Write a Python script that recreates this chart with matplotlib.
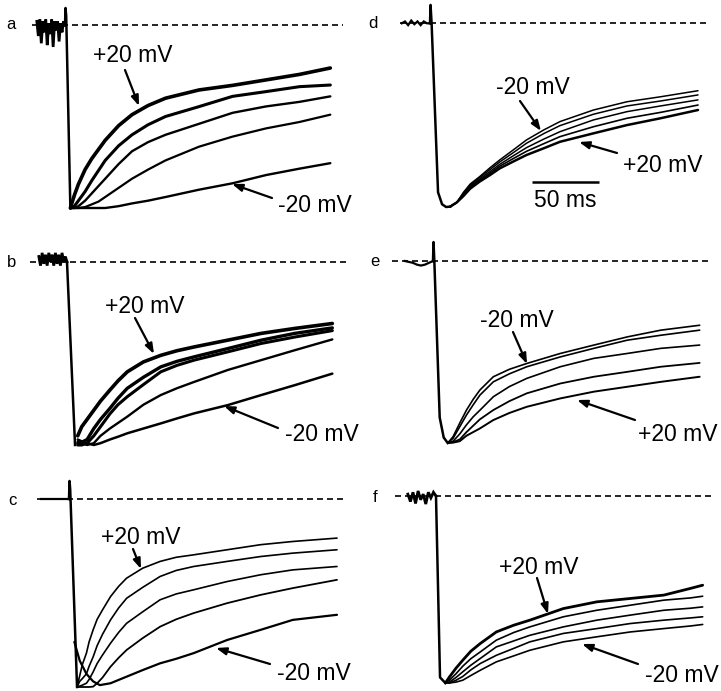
import numpy as np
import matplotlib
matplotlib.use("Agg")
import matplotlib.pyplot as plt

W, H = 721, 691
FONT = "Liberation Sans"

# ---------------- data (time in ms after step, current normalised to peak) ----------------
# panel a
t_a = [4, 7, 10, 15, 20, 25, 30, 40, 50, 62, 75, 100, 125, 150, 175, 198]
a1 = [-1.0, -0.93, -0.87, -0.79, -0.73, -0.68, -0.63, -0.55, -0.49, -0.44, -0.40, -0.355, -0.33, -0.30, -0.27, -0.235]
a2 = [-1.0, -0.99, -0.96, -0.91, -0.85, -0.795, -0.74, -0.66, -0.60, -0.545, -0.50, -0.446, -0.39, -0.364, -0.337, -0.328]
a3 = [-1.0, -1.0, -0.99, -0.96, -0.92, -0.88, -0.84, -0.76, -0.69, -0.64, -0.60, -0.54, -0.48, -0.445, -0.42, -0.39]
a4 = [-1.0, -1.0, -1.0, -0.995, -0.98, -0.965, -0.94, -0.89, -0.84, -0.79, -0.74, -0.665, -0.61, -0.565, -0.53, -0.49]
a5 = [-1.0, -1.0, -1.0, -1.0, -1.0, -1.0, -1.0, -0.99, -0.975, -0.96, -0.94, -0.90, -0.865, -0.82, -0.785, -0.755]
pre_a = [0.02, -0.06, 0.03, -0.10, 0.02, -0.04, 0.03, -0.11, 0.01, -0.05,
         0.03, -0.12, 0.02, -0.03, 0.02, -0.09, 0.01, -0.04, 0.02, 0.0]
drop_t_a = [0, 0.4, 0.9, 4]
drop_a = [0, 0.093, 0.05, -1.0]

# panel b
t_b = [8, 11, 15, 20, 25, 32, 38, 45, 57, 70, 82, 95, 120, 145, 170, 198]
b1 = [-0.95, -0.90, -0.86, -0.81, -0.76, -0.70, -0.65, -0.60, -0.546, -0.51, -0.485, -0.464, -0.427, -0.39, -0.363, -0.336]
b2 = [-0.99, -0.985, -0.97, -0.91, -0.86, -0.80, -0.745, -0.69, -0.63, -0.573, -0.543, -0.518, -0.473, -0.427, -0.39, -0.36]
b3 = [-1.0, -1.0, -0.99, -0.95, -0.90, -0.83, -0.78, -0.736, -0.67, -0.60, -0.565, -0.536, -0.491, -0.445, -0.41, -0.375]
b4 = [-0.98, -0.99, -1.0, -0.99, -0.95, -0.91, -0.88, -0.845, -0.78, -0.727, -0.69, -0.655, -0.59, -0.536, -0.482, -0.423]
b5 = [-0.97, -0.98, -0.99, -1.0, -0.99, -0.97, -0.955, -0.936, -0.91, -0.882, -0.855, -0.827, -0.782, -0.727, -0.673, -0.61]
pre_b = [0.03, -0.02, 0.05, -0.01, 0.04, -0.02, 0.05, 0.0, 0.04, -0.02,
         0.05, -0.01, 0.04, -0.02, 0.05, 0.0, 0.03, 0.0]
drop_t_b = [0, 6]
drop_b = [0, -1.0]

# panel c
t_c = [6, 8, 10, 13, 15, 18, 21, 25, 31, 37, 43, 55, 68, 80, 93, 118, 143, 167, 200]
c1 = [-1.0, -0.94, -0.88, -0.82, -0.76, -0.696, -0.64, -0.59, -0.519, -0.465, -0.421, -0.368, -0.332, -0.31, -0.297, -0.27, -0.243, -0.226, -0.208]
c2 = [-1.0, -0.97, -0.955, -0.93, -0.89, -0.84, -0.78, -0.72, -0.643, -0.58, -0.528, -0.47, -0.412, -0.38, -0.359, -0.332, -0.306, -0.288, -0.27]
c3 = [-1.0, -0.995, -0.99, -0.98, -0.96, -0.92, -0.875, -0.83, -0.767, -0.71, -0.661, -0.60, -0.536, -0.505, -0.483, -0.439, -0.403, -0.377, -0.359]
c4 = [-1.0, -1.0, -1.0, -1.0, -1.0, -0.998, -0.98, -0.95, -0.892, -0.845, -0.803, -0.74, -0.679, -0.64, -0.607, -0.554, -0.51, -0.474, -0.43]
t_c5 = [4, 8, 13, 18, 23, 31, 43, 55, 68, 80, 93, 118, 143, 167, 200]
c5 = [-0.76, -0.86, -0.93, -0.97, -0.99, -0.98, -0.945, -0.91, -0.874, -0.85, -0.82, -0.75, -0.696, -0.643, -0.616]
pre_c = [0.0, 0.0]
drop_t_c = [0, 0.4, 0.9, 6]
drop_c = [0, 0.096, 0.05, -1.0]

# panel d
t_d = [15, 20, 25, 30, 37, 45, 52, 62, 72, 85, 97, 122, 147, 172, 200]
d1 = [-0.998, -0.975, -0.92, -0.875, -0.835, -0.785, -0.744, -0.69, -0.635, -0.58, -0.535, -0.472, -0.427, -0.40, -0.367]
d2 = [-0.998, -0.975, -0.925, -0.88, -0.84, -0.795, -0.755, -0.705, -0.653, -0.60, -0.557, -0.495, -0.45, -0.423, -0.39]
d3 = [-0.998, -0.975, -0.93, -0.887, -0.848, -0.806, -0.768, -0.722, -0.677, -0.63, -0.59, -0.526, -0.481, -0.45, -0.417]
d4 = [-0.998, -0.975, -0.935, -0.893, -0.855, -0.815, -0.778, -0.737, -0.697, -0.655, -0.617, -0.563, -0.517, -0.485, -0.445]
d5 = [-0.998, -0.975, -0.94, -0.90, -0.862, -0.825, -0.79, -0.753, -0.717, -0.68, -0.645, -0.599, -0.554, -0.517, -0.472]
pre_d = [0.0, 0.01, -0.01, 0.015, -0.005, 0.01, -0.01, 0.01, 0.0, 0.0]
drop_t_d = [0, 0.4, 1.2, 6, 9, 12, 15]
drop_d = [0, 0.10, 0.0, -0.92, -0.985, -1.0, -0.998]

# panel e
t_e = [11, 15, 20, 25, 30, 35, 45, 57, 70, 95, 120, 145, 170, 199]
e1 = [-1.0, -0.965, -0.89, -0.819, -0.76, -0.709, -0.636, -0.595, -0.563, -0.508, -0.462, -0.417, -0.38, -0.353]
e2 = [-1.0, -0.974, -0.91, -0.846, -0.79, -0.737, -0.664, -0.62, -0.581, -0.527, -0.48, -0.435, -0.408, -0.38]
e3 = [-1.0, -0.99, -0.95, -0.90, -0.856, -0.82, -0.746, -0.69, -0.645, -0.581, -0.535, -0.508, -0.48, -0.462]
e4 = [-1.0, -0.995, -0.98, -0.94, -0.905, -0.87, -0.819, -0.77, -0.727, -0.673, -0.636, -0.609, -0.581, -0.56]
e5 = [-1.0, -0.998, -0.99, -0.96, -0.94, -0.92, -0.874, -0.835, -0.801, -0.755, -0.718, -0.691, -0.664, -0.636]
pre_e = [0.0, -0.005, -0.01, -0.02, -0.025, -0.02, -0.01, 0.0]
drop_t_e = [0, 0.4, 1.0, 5, 8, 11]
drop_e = [0, 0.104, 0.0, -0.86, -0.97, -1.0]

# panel f
t_f = [7, 10, 15, 20, 26, 33, 45, 58, 70, 95, 120, 145, 170, 190, 199]
f1 = [-1.0, -0.968, -0.92, -0.878, -0.83, -0.789, -0.727, -0.691, -0.664, -0.602, -0.566, -0.548, -0.53, -0.494, -0.477]
f2 = [-1.0, -0.985, -0.95, -0.91, -0.87, -0.834, -0.771, -0.73, -0.70, -0.646, -0.611, -0.584, -0.557, -0.545, -0.536]
f3 = [-1.0, -0.995, -0.97, -0.94, -0.905, -0.869, -0.807, -0.775, -0.745, -0.70, -0.664, -0.637, -0.611, -0.60, -0.593]
f4 = [-1.0, -1.0, -0.985, -0.965, -0.93, -0.896, -0.852, -0.815, -0.78, -0.735, -0.709, -0.682, -0.664, -0.652, -0.646]
f5 = [-1.0, -1.0, -0.995, -0.985, -0.96, -0.932, -0.887, -0.855, -0.825, -0.78, -0.753, -0.727, -0.709, -0.695, -0.687]
pre_f = [0.01, -0.03, 0.02, -0.04, 0.027, -0.02, 0.01, -0.043, 0.02, -0.01, 0.02, 0.0]
drop_t_f = [0, 3, 7]
drop_f = [0, -0.97, -1.0]

panel_labels = ["a", "b", "c", "d", "e", "f"]
label_top = "+20 mV"
label_bot = "-20 mV"
scale_ms = 50

# ---------------- layout ----------------
PX_PER_MS = 1.34
# name: (step_x, baseline_y, peak_y, region(l, t, r, b), dash(x0, x1))
layout = {
    "a": (65, 25, 208, (0, 0, 360, 230), (32, 343)),
    "b": (67, 262, 445, (0, 230, 360, 461), (30, 347)),
    "c": (69, 499, 687, (0, 461, 360, 691), (37, 347)),
    "d": (430, 23.3, 207, (360, 0, 721, 230), (400, 710)),
    "e": (433, 261, 443, (360, 230, 721, 461), (392, 710)),
    "f": (436, 496, 683, (360, 461, 721, 691), (395, 713)),
}
# each trace: (times, values, linewidth, join the drop end?)
traces = {
    "a": ([(t_a, a1, 2.6), (t_a, a2, 2.2), (t_a, a3, 1.7), (t_a, a4, 1.6), (t_a, a5, 1.7)],
          pre_a, drop_t_a, drop_a),
    "b": ([(t_b, b1, 2.6), (t_b, b2, 2.4), (t_b, b3, 2.2), (t_b, b4, 1.7), (t_b, b5, 1.8)],
          pre_b, drop_t_b, drop_b),
    "c": ([(t_c, c1, 1.2), (t_c, c2, 1.2), (t_c, c3, 1.2), (t_c, c4, 1.3), (t_c5, c5, 1.6)],
          pre_c, drop_t_c, drop_c),
    "d": ([(t_d, d1, 1.1), (t_d, d2, 1.1), (t_d, d3, 1.1), (t_d, d4, 1.2), (t_d, d5, 1.8)],
          pre_d, drop_t_d, drop_d),
    "e": ([(t_e, e1, 1.2), (t_e, e2, 1.2), (t_e, e3, 1.2), (t_e, e4, 1.3), (t_e, e5, 1.4)],
          pre_e, drop_t_e, drop_e),
    "f": ([(t_f, f1, 2.0), (t_f, f2, 1.2), (t_f, f3, 1.2), (t_f, f4, 1.2), (t_f, f5, 1.2)],
          pre_f, drop_t_f, drop_f),
}

fig = plt.figure(figsize=(W / 100, H / 100), dpi=100)
fig.patch.set_facecolor("white")

axes = {}
for name in panel_labels:
    sx, by, py, (l, t, r, b), (dx0, dx1) = layout[name]
    amp = py - by
    ax = fig.add_axes([l / W, 1 - b / H, (r - l) / W, (b - t) / H])
    ax.set_xlim((l - sx) / PX_PER_MS, (r - sx) / PX_PER_MS)
    ax.set_ylim(-(b - by) / amp, (by - t) / amp)
    ax.axis("off")
    axes[name] = ax
    # dashed baseline
    ax.plot([(dx0 - sx) / PX_PER_MS, (dx1 - sx) / PX_PER_MS], [0, 0], color="black",
            lw=1.2, linestyle=(0, (3.6, 2.4)), solid_capstyle="butt")
    tr, pre, dt, dy = traces[name]
    # pre-step holding segment
    tpre = np.linspace(-21, 0, len(pre))
    ax.plot(tpre, pre, color="black", lw=2.0 if name in "abf" else 1.6, solid_joinstyle="miter")
    # capacitive transient and drop to peak
    ax.plot(dt, dy, color="black", lw=1.8, solid_joinstyle="round")
    for tt, y, lw in tr:
        ax.plot(tt, y, color="black", lw=lw, solid_joinstyle="round", solid_capstyle="round")

# scale bar in panel d
axd = axes["d"]
sb_t0 = 76
sb_y = -0.864
axd.plot([sb_t0, sb_t0 + scale_ms], [sb_y, sb_y], color="black", lw=1.8, solid_capstyle="butt")
axd.text(sb_t0 + scale_ms / 2, -0.965, f"{scale_ms} ms", ha="center", va="center",
         fontsize=16.5, family=FONT)

# overlay for labels and arrows (pixel coordinates)
ov = fig.add_axes([0, 0, 1, 1])
ov.set_xlim(0, W)
ov.set_ylim(H, 0)
ov.axis("off")
ov.patch.set_alpha(0)

label_pos = {"a": (11, 24), "b": (12, 262), "c": (12, 500),
             "d": (373, 23), "e": (375, 261), "f": (375, 497)}
for name, (x, y) in label_pos.items():
    ov.text(x, y, name, ha="center", va="center", fontsize=12, family=FONT)

# (text, text centre, arrow start, arrow end)
annots = [
    (label_top, (133, 55), (125, 70), (139, 106)),
    (label_bot, (315, 205), (272, 198), (232, 184)),
    (label_top, (145, 306), (135, 318), (154, 354)),
    (label_bot, (322, 434), (278, 428), (224, 406)),
    (label_top, (141, 538), (133, 549), (141, 569)),
    (label_bot, (314, 673), (270, 664), (216, 648)),
    (label_bot, (533, 87), (520, 101), (541, 131)),
    (label_top, (663, 165), (617, 153), (579, 142)),
    (label_bot, (517, 320), (513, 332), (527, 364)),
    (label_top, (678, 434), (635, 420), (577, 400)),
    (label_top, (539, 567), (537, 578), (548, 614)),
    (label_bot, (682, 676), (638, 664), (582, 644)),
]
for txt, (tx_, ty_), (x0, y0), (x1, y1) in annots:
    ov.text(tx_, ty_, txt, ha="center", va="center", fontsize=16.5, family=FONT)
    ov.annotate("", xy=(x1, y1), xytext=(x0, y0),
                arrowprops=dict(arrowstyle="-|>,head_length=0.6,head_width=0.22",
                                color="black", lw=1.6, shrinkA=0, shrinkB=0))

fig.savefig("out.png", dpi=100, facecolor="white")
